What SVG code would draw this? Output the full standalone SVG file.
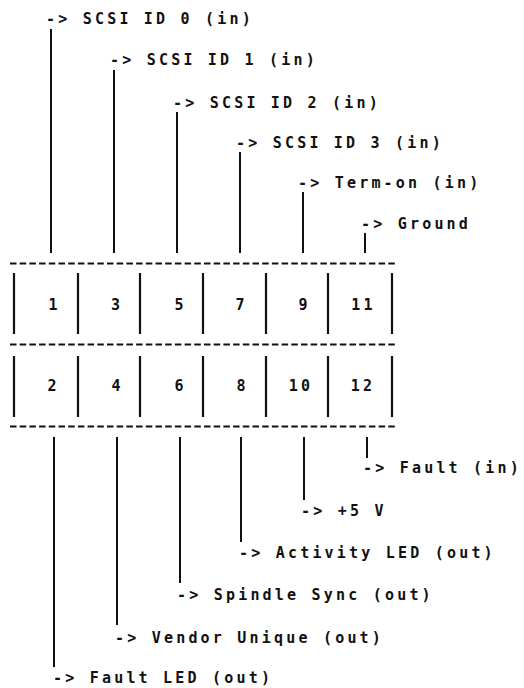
<svg xmlns="http://www.w3.org/2000/svg" width="524" height="688" viewBox="0 0 524 688">
<style>
text{font-family:"DejaVu Sans Mono","Liberation Mono",monospace;font-size:15px;font-weight:bold;fill:#111;letter-spacing:3.2px}
.num{text-anchor:middle}
.dash{stroke:#111;stroke-width:2;stroke-dasharray:6.5 3.2;fill:none}
.sep{stroke:#111;stroke-width:2.2;fill:none}
.lead{stroke:#111;stroke-width:2;fill:none}
</style>
<rect width="524" height="688" fill="#fff"/>
<g id="header">
<line class="dash" x1="10" y1="263.5" x2="397" y2="263.5"/>
<line class="dash" x1="10" y1="344.5" x2="397" y2="344.5"/>
<line class="dash" x1="10" y1="426.5" x2="397" y2="426.5"/>
<path class="sep" d="M14 273V334M78 273V334M140 273V334M203 273V334M266 273V334M328 273V334M392 273V334"/>
<path class="sep" d="M14 356V417M78 356V417M140 356V417M203 356V417M266 356V417M328 356V417M392 356V417"/>
</g>
<g id="connectors">
<path class="lead" d="M51 29V253M114 70V253M177 112V253M240 152V253M303 192V253M365 233V253"/>
<path class="lead" d="M54 437V667M117 437V625M180 437V583M241 437V542M304 437V500M367 437V458"/>
</g>
<g id="pin-1"><text class="num" x="54.5" y="310">1</text><text x="46" y="24">-&gt; SCSI ID 0 (in)</text></g>
<g id="pin-3"><text class="num" x="117" y="310">3</text><text x="110" y="65">-&gt; SCSI ID 1 (in)</text></g>
<g id="pin-5"><text class="num" x="180.5" y="310">5</text><text x="173" y="108">-&gt; SCSI ID 2 (in)</text></g>
<g id="pin-7"><text class="num" x="241.5" y="310">7</text><text x="236" y="148">-&gt; SCSI ID 3 (in)</text></g>
<g id="pin-9"><text class="num" x="304.5" y="310">9</text><text x="298" y="188">-&gt; Term-on (in)</text></g>
<g id="pin-11"><text class="num" x="363.5" y="310">11</text><text x="361" y="229">-&gt; Ground</text></g>
<g id="pin-2"><text class="num" x="53.5" y="391">2</text><text x="53" y="683">-&gt; Fault LED (out)</text></g>
<g id="pin-4"><text class="num" x="117.5" y="391">4</text><text x="115" y="643">-&gt; Vendor Unique (out)</text></g>
<g id="pin-6"><text class="num" x="180.5" y="391">6</text><text x="177" y="600">-&gt; Spindle Sync (out)</text></g>
<g id="pin-8"><text class="num" x="242.5" y="391">8</text><text x="239" y="558">-&gt; Activity LED (out)</text></g>
<g id="pin-10"><text class="num" x="301" y="391">10</text><text x="301" y="516">-&gt; +5 V</text></g>
<g id="pin-12"><text class="num" x="363" y="391">12</text><text x="363" y="473">-&gt; Fault (in)</text></g>
</svg>
